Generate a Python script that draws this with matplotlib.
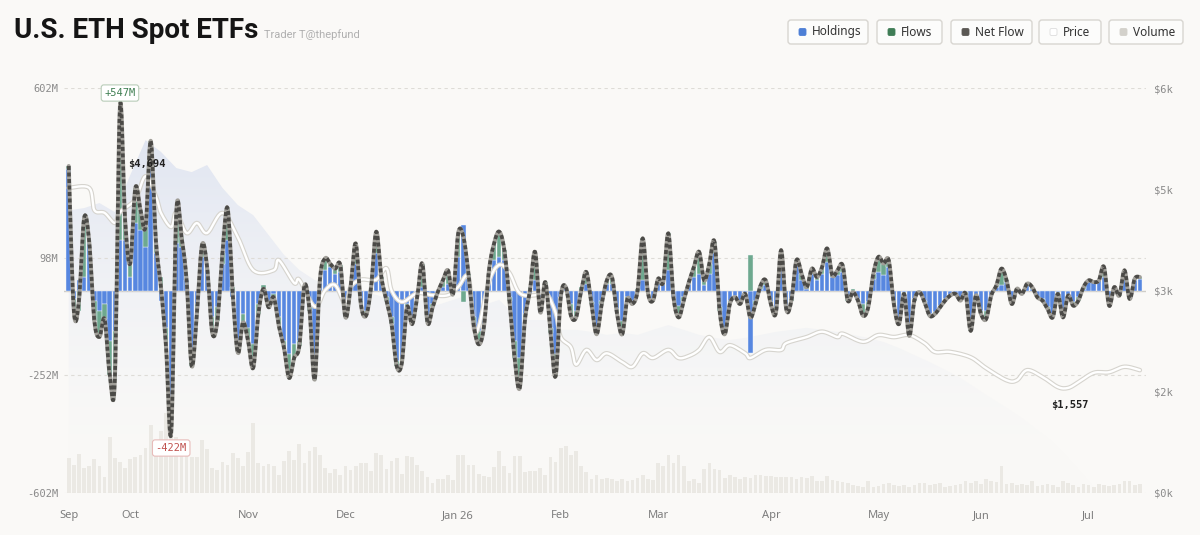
import numpy as np
import pandas as pd
import matplotlib
matplotlib.use("Agg")
import matplotlib.pyplot as plt
from matplotlib.patches import FancyBboxPatch
from matplotlib.transforms import IdentityTransform
import matplotlib.patheffects as pe
from matplotlib.colors import to_rgb

# ---------------- data ----------------
start_date = "2025-09-15"
n_days = 210
holidays = ["2025-11-27", "2025-12-25", "2026-01-01", "2026-01-19", "2026-02-16",
            "2026-04-03", "2026-05-25", "2026-06-19", "2026-07-03"]

# daily net flow ($M)
net_flow = [
    370, -60, -30, 215, 145, -90, -138, -85, -250, -265,
    547, 210, 80, 305, 240, 190, 445, 150, 10, -170,
    -422, 235, 160, 30, -225, -70, 135, 70, -125, -90,
    110, 245, -10, -185, -95, -150, -230, -70, 5, -50,
    -20, -105, -170, -260, -200, -165, 15, -60, -265, 30,
    95, 80, 65, 75, -80, 10, 140, -40, -75, 10,
    175, 40, -30, -100, -225, -215, -50, -100, -20, 80,
    -95, -50, -5, 30, 60, -10, 170, 160, 50, -100,
    -160, -110, 60, 140, 175, 120, -30, -200, -290, -90,
    0, 115, -65, 25, -125, -255, -20, 10, -75, -80,
    0, 55, -40, -130, -40, 30, 40, -70, -130, -25,
    -40, 0, 155, -5, -30, 35, 25, 170, -20, -80,
    -30, 25, 70, 115, 30, 80, 145, -60, -130, -40,
    -20, -40, -10, -80, -40, 15, 30, -40, -65, 120,
    -55, -30, 90, 50, 10, 65, 40, 70, 125, 45,
    60, 75, -30, -5, -30, -75, -50, 50, 100, 80,
    90, -40, -100, -10, -135, -30, -5, -35, -75, -70,
    -50, -30, -15, -10, -30, -10, -120, -15, -70, -85,
    -15, 15, 65, 30, -40, 5, -10, 20, 10, -20,
    -30, -55, -80, -10, -80, -15, -45, -30, 10, 30,
    25, 30, 70, -45, 10, -15, 60, -25, 35, 40,
]
# blue (largest fund) share of the daily flow ($M)
blue_flow = [
    360, -25, 30, 40, 140, -30, -60, -40, -150, -120,
    150, 150, 40, 200, 180, 130, 420, 110, -30, -110,
    -330, 140, 130, 30, -180, -40, 100, 60, -80, -50,
    80, 150, -20, -150, -70, -110, -160, -40, -10, -30,
    -10, -80, -150, -190, -160, -150, 10, -50, -200, 25,
    60, 70, 50, 55, -70, 10, 80, -30, -60, 5,
    110, 30, -20, -80, -210, -200, -40, -80, -15, 10,
    -80, -40, -5, 10, 20, -5, 100, 195, 40, -80,
    -120, -100, 50, 90, 100, 90, -20, -150, -200, -70,
    -10, 30, -60, 15, -110, -190, -20, 10, -40, -60,
    -10, 20, -35, -110, -30, 20, 20, -55, -90, -20,
    -30, -5, 30, -5, -25, 25, 20, 60, -20, -45,
    -20, 20, 40, 50, 15, 50, 110, -50, -110, -30,
    -15, -35, -10, -185, -30, 5, 15, -35, -50, 90,
    -45, -25, 75, 30, 5, 50, 30, 50, 85, 40,
    45, 55, -20, -10, -25, -40, -35, 35, 55, 45,
    70, -30, -90, -5, -110, -25, -5, -30, -70, -65,
    -45, -25, -15, -10, -25, -5, -100, -15, -60, -60,
    -15, 10, 15, 25, -35, 5, -10, 15, 5, -20,
    -25, -50, -75, -5, -70, -15, -35, -20, 5, 25,
    25, 30, 40, -40, 10, -10, 55, -20, 30, 35,
]
# daily volume (arbitrary units, ~$30M each)
volume = [
    35, 28, 39, 25, 27, 34, 27, 16, 56, 35,
    31, 25, 34, 36, 38, 45, 68, 50, 62, 80,
    60, 56, 45, 43, 36, 36, 53, 44, 25, 23,
    31, 28, 40, 35, 27, 41, 70, 30, 27, 29,
    27, 18, 32, 42, 33, 49, 30, 42, 46, 38,
    25, 20, 24, 18, 27, 23, 27, 30, 30, 22,
    40, 38, 24, 32, 35, 19, 37, 36, 28, 22,
    16, 10, 14, 14, 18, 13, 38, 38, 28, 28,
    19, 17, 16, 26, 42, 27, 20, 37, 37, 21,
    22, 22, 25, 18, 36, 31, 45, 47, 38, 42,
    27, 21, 14, 18, 14, 15, 14, 12, 14, 12,
    13, 15, 18, 14, 13, 30, 27, 38, 30, 38,
    27, 12, 14, 10, 24, 30, 24, 23, 15, 18,
    16, 14, 16, 15, 18, 18, 17, 17, 16, 16,
    16, 16, 14, 16, 15, 17, 12, 12, 17, 13,
    12, 11, 10, 8, 7, 6, 12, 6, 7, 9,
    10, 8, 7, 8, 6, 8, 10, 10, 8, 9,
    10, 6, 7, 8, 9, 12, 10, 12, 9, 14,
    12, 11, 27, 9, 10, 8, 9, 8, 12, 7,
    8, 9, 8, 6, 12, 10, 8, 6, 9, 8,
    6, 9, 8, 7, 8, 9, 12, 12, 8, 9,
]
# ETH price ($) at sampled trading days
price_day = [0, 4, 5, 7, 9, 10, 13, 15, 17, 18, 20, 21, 23, 25, 27, 30, 33, 36, 40, 41,
             44, 45, 48, 50, 52, 54, 55, 57, 60, 62, 63, 65, 68, 71, 74, 76, 78, 79, 80, 82,
             84, 86, 88, 91, 93, 95, 96, 98, 99, 101, 103, 105, 108, 110, 112, 114, 117, 119,
             121, 123, 125, 127, 129, 132, 133, 136, 139, 140, 144, 147, 150, 151, 155, 158,
             161, 164, 167, 169, 172, 176, 179, 183, 185, 187, 190, 193, 195, 197, 200, 203,
             206, 209]
price = [4520, 4520, 4190, 4150, 4000, 4160, 4350, 4694, 4400, 4150, 3940, 4160, 3850, 4000,
         3850, 4150, 3790, 3300, 3300, 3450, 3110, 3160, 2760, 3000, 3080, 2790, 3050, 3160,
         3160, 3330, 3000, 2830, 2960, 2930, 2930, 3050, 3200, 2460, 2460, 3130, 3380, 3260,
         2960, 2930, 2980, 2670, 2310, 2160, 1900, 2120, 1970, 2070, 1940, 1870, 2070, 2000,
         2120, 2000, 2030, 2120, 2310, 2090, 2190, 2070, 2000, 2120, 2120, 2220, 2310, 2390,
         2310, 2360, 2240, 2340, 2310, 2340, 2220, 2090, 2090, 2010, 1850, 1670, 1670, 1820,
         1720, 1570, 1557, 1640, 1780, 1790, 1870, 1820]
# holdings area (left-axis units, $M) every 3 trading days
holdings_area = [238, 245, 260, 233, 343, 447, 412, 364, 352, 373,
                 305, 254, 224, 165, 106, 61, 31, 16, 1, -4,
                 -13, -28, -43, -28, -43, -28, -13, -43, -28, -73,
                 -88, -88, -117, -117, -123, -132, -126, -132, -117, -103,
                 -117, -132, -141, -147, -141, -132, -123, -117, -111, -117,
                 -123, -132, -141, -153, -171, -192, -213, -236, -260, -290,
                 -320, -349, -379, -415, -450, -498, -549, -602]
holdings_step = 3

left_ticks = [602, 98, -252, -602]
left_labels = ["602M", "98M", "-252M", "-602M"]
right_ticks = [0, 1500, 3000, 4500, 6000]
right_labels = ["$0k", "$2k", "$3k", "$5k", "$6k"]
month_names = {9: "Sep", 10: "Oct", 11: "Nov", 12: "Dec", 1: "Jan 26", 2: "Feb",
               3: "Mar", 4: "Apr", 5: "May", 6: "Jun", 7: "Jul"}

# ---------------- helpers ----------------
BG = "#faf9f7"
YMAX = 602.0
PMAX = 6000.0


def p2m(p):
    return np.asarray(p, float) / PMAX * (2 * YMAX) - YMAX


def m2p(m):
    return (np.asarray(m, float) + YMAX) / (2 * YMAX) * PMAX


def catmull(x, y, n=10):
    x = np.asarray(x, float); y = np.asarray(y, float)
    P = np.column_stack([x, y])
    P = np.vstack([P[0], P, P[-1]])
    out = []
    t = np.linspace(0, 1, n, endpoint=False)[:, None]
    for i in range(1, len(P) - 2):
        p0, p1, p2, p3 = P[i - 1], P[i], P[i + 1], P[i + 2]
        seg = 0.5 * ((2 * p1) + (-p0 + p2) * t + (2 * p0 - 5 * p1 + 4 * p2 - p3) * t ** 2
                     + (-p0 + 3 * p1 - 3 * p2 + p3) * t ** 3)
        out.append(seg)
    out.append(P[-2][None, :])
    o = np.vstack(out)
    return o[:, 0], o[:, 1]


cbd = pd.offsets.CustomBusinessDay(holidays=holidays)
dates = pd.date_range(start_date, periods=n_days, freq=cbd)
idx = np.arange(n_days)

fig = plt.figure(figsize=(12, 5.35), dpi=100, facecolor=BG)
ax = fig.add_axes([64 / 1200, (535 - 493) / 535, (1146 - 64) / 1200, (493 - 88) / 535])
ax.set_facecolor(BG)
for s in ax.spines.values():
    s.set_visible(False)

# holdings area with vertical gradient
hx = np.arange(len(holdings_area)) * holdings_step
poly = ax.fill_between(hx, holdings_area, -YMAX, facecolor="none", edgecolor="none")
top_c = np.array(to_rgb("#d9e0f0")); bot_c = np.array(to_rgb(BG))
f = (np.linspace(0, 1, 256) ** 1.8)[:, None]
grad = (bot_c * (1 - f) + top_c * f)[:, None, :]
img = ax.imshow(grad, extent=[-1, n_days, -YMAX, YMAX], aspect="auto", origin="lower", zorder=0.5)
img.set_clip_path(poly.get_paths()[0], transform=ax.transData)

# volume bars
VOL_SCALE = 2.973
ax.bar(idx, np.array(volume) * VOL_SCALE, bottom=-YMAX, width=0.72, color="#ebe9e4", zorder=1)

# grid
for yv in left_ticks:
    ax.axhline(yv, color="#dedcd7", lw=0.8, ls=(0, (3, 3)), zorder=1.5)
ax.axhline(0, color="#cfcdc8", lw=1.0, zorder=1.8)

# stacked flow bars
blue = np.array(blue_flow, float)
other = np.array(net_flow, float) - blue
pos = np.zeros(n_days); neg = np.zeros(n_days)
for comp, col in [(blue, "#5787e0"), (other, "#6ea98f")]:
    base = np.where(comp >= 0, pos, neg)
    ax.bar(idx, comp, bottom=base, width=0.88, color=col, edgecolor="#f4f6fa", linewidth=0.3, zorder=2)
    pos += np.clip(comp, 0, None); neg += np.clip(comp, None, 0)

# price line
px, py = catmull(price_day, p2m(price), n=8)
ax.plot(px, py, color="white", lw=1.7, zorder=3, solid_capstyle="round",
        path_effects=[pe.Stroke(linewidth=3.3, foreground="#d6d4ce"), pe.Normal()])

# net flow line
nx, ny = catmull(idx, net_flow, n=10)
ax.plot(nx, ny, color="#a09e98", lw=2.9, zorder=4, solid_capstyle="round")
ax.plot(nx, ny, color="#4b4a47", lw=2.6, zorder=4.1, ls=(0, (1.1, 0.7)))

ax.set_xlim(-0.92, 210.2)
ax.set_ylim(-YMAX, YMAX)

# axes ticks
ax.set_yticks(left_ticks)
ax.set_yticklabels(left_labels, family="DejaVu Sans Mono", fontsize=7.5, color="#8a8a8a")
month_pos = []; month_lab = []
for i, d in enumerate(dates):
    if i == 0 or d.month != dates[i - 1].month:
        month_pos.append(i); month_lab.append(month_names[d.month])
ax.set_xticks(month_pos)
ax.set_xticklabels(month_lab, fontsize=8, color="#7d7d7d", family="Noto Sans")
ax.tick_params(axis="both", length=0)
ax.tick_params(axis="x", pad=12)
ax.tick_params(axis="y", pad=4)

sec = ax.secondary_yaxis("right", functions=(m2p, p2m))
sec.set_yticks(right_ticks)
sec.set_yticklabels(right_labels, family="DejaVu Sans Mono", fontsize=7.5, color="#8a8a8a")
sec.tick_params(length=0, pad=6)
for s in sec.spines.values():
    s.set_visible(False)

# annotations
imax = int(np.argmax(net_flow)); imin = int(np.argmin(net_flow))
ax.annotate(f"+{net_flow[imax]}M", (imax, net_flow[imax]), xytext=(0, 9.7), textcoords="offset points",
            ha="center", va="center", family="DejaVu Sans Mono", fontsize=7.5, color="#3f7f52", zorder=6,
            bbox=dict(boxstyle="round,pad=0.3,rounding_size=0.25", fc="white", ec="#b9cdb9", lw=0.8))
ax.annotate(f"{net_flow[imin]}M", (imin, net_flow[imin]), xytext=(0, -11.2), textcoords="offset points",
            ha="center", va="center", family="DejaVu Sans Mono", fontsize=7.5, color="#c0504d", zorder=6,
            bbox=dict(boxstyle="round,pad=0.3,rounding_size=0.25", fc="white", ec="#e8bcba", lw=0.8))
pmax_i = int(np.argmax(price)); pmin_i = int(np.argmin(price))
ax.annotate(f"${price[pmax_i]:,}", (price_day[pmax_i], p2m(price[pmax_i])), xytext=(1, 9),
            textcoords="offset points", ha="center", va="center", family="DejaVu Sans Mono",
            fontsize=7.5, weight="bold", color="#222222", zorder=6)
ax.annotate(f"${price[pmin_i]:,}", (price_day[pmin_i], p2m(price[pmin_i])), xytext=(1, -12),
            textcoords="offset points", ha="center", va="center", family="DejaVu Sans Mono",
            fontsize=7.5, weight="bold", color="#222222", zorder=6)

# title
H = 535
fig.text(14, H - 38, "U.S. ETH Spot ETFs", transform=IdentityTransform(), fontsize=20,
         weight="bold", family="Roboto", color="#151515", va="baseline")
fig.text(264, H - 38, "Trader T@thepfund", transform=IdentityTransform(), fontsize=8,
         family="Roboto", color="#b0b0b0", va="baseline")

# legend chips
legend_items = [("Holdings", "#4d7fd6"), ("Flows", "#3f7d56"), ("Net Flow", "#5b5854"),
                ("Price", "#ffffff"), ("Volume", "#d3d1cb")]
chip_x = [788, 877, 951, 1039, 1109]
chip_w = [80, 65, 81, 62, 74]
for (lab, col), x0, w in zip(legend_items, chip_x, chip_w):
    fig.add_artist(FancyBboxPatch((x0, H - 44), w, 24, boxstyle="round,pad=0,rounding_size=3",
                                  transform=IdentityTransform(), fc="#fcfcfb", ec="#d8d6d1", lw=1.0))
    fig.add_artist(FancyBboxPatch((x0 + 11, H - 35.5), 7, 7, boxstyle="round,pad=0,rounding_size=1.5",
                                  transform=IdentityTransform(), fc=col,
                                  ec="#dddddd" if col == "#ffffff" else col, lw=0.6))
    fig.text(x0 + 24, H - 32, lab, transform=IdentityTransform(), fontsize=8.5, family="Noto Sans",
             color="#333333", va="center")

fig.savefig("out.png", dpi=100, facecolor=BG)
